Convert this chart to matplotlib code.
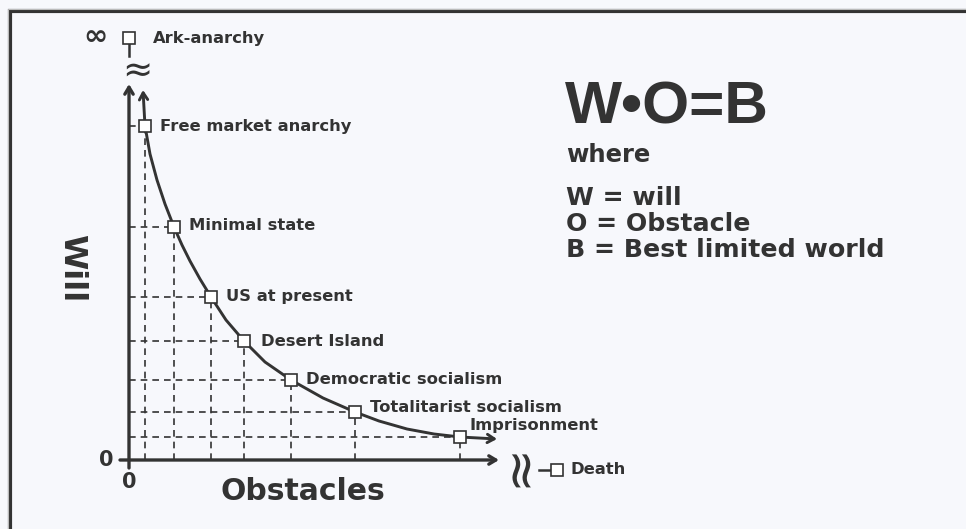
import numpy as np
import matplotlib
matplotlib.use('Agg')
import matplotlib.pyplot as plt
from matplotlib.patches import Rectangle

INK = '#333333'
BG = '#f7f8fc'

# positions of each world on the W-O curve (obstacles, will)
labels = ['Free market anarchy', 'Minimal state', 'US at present', 'Desert Island',
          'Democratic socialism', 'Totalitarist socialism', 'Imprisonment']
obstacles = [1.6, 4.5, 8.2, 11.5, 16.2, 22.6, 33.1]
will = [33.4, 23.3, 16.3, 11.9, 8.0, 4.8, 2.3]

# points
curve_o = [1.4, 1.6, 2.1, 2.8, 3.6, 4.5, 5.3, 6.1, 7.1, 8.2, 9.7, 11.5, 13.6, 16.2,
           19.4, 22.6, 25.0, 27.8, 30.5, 33.1, 36.4]
curve_w = [36.4, 33.4, 30.6, 28.0, 25.6, 23.3, 21.5, 19.9, 18.1, 16.3, 14.0, 11.9, 9.8, 8.0,
           6.2, 4.8, 3.9, 3.1, 2.6, 2.3, 2.1]

# the two limit cases off the chart
ark_o, ark_w = 0.0, 42.2
death_o, death_w = 42.8, -1.0

legend_lines = ['W = will', 'O = Obstacle', 'B = Best limited world']

fig = plt.figure(figsize=(9.66, 5.29), dpi=100, facecolor=BG)
ax = fig.add_axes([0, 0, 1, 1])
ax.set_facecolor(BG)
ax.set_xlim(-12.9, 83.7)
ax.set_ylim(-6.9, 46.0)
ax.axis('off')

# frame
fig.patches.append(Rectangle((10/966, -0.1), 1.2, 1.1 - 11/529, transform=fig.transFigure,
                             fill=False, ec=INK, lw=3, zorder=0))
fig.patches.append(Rectangle((7.5/966, -0.1), 1.2, 1.1 - 8.5/529, transform=fig.transFigure,
                             fill=False, ec='#bbbbbb', lw=0.8, zorder=0))

# axes with arrows
arrow = dict(arrowstyle='->,head_length=0.5,head_width=0.3', color=INK, lw=2.4,
             shrinkA=0, shrinkB=0)
ax.annotate('', xy=(0, 37.6), xytext=(0, -0.8), arrowprops=arrow)
ax.annotate('', xy=(37.0, 0), xytext=(-0.9, 0), arrowprops=arrow)

# dashed guides
for o, w in zip(obstacles, will):
    ax.plot([0, o], [w, w], color=INK, lw=1.2, ls=(0, (4, 3)), zorder=1)
    ax.plot([o, o], [0, w], color=INK, lw=1.2, ls=(0, (4, 3)), zorder=1)

# curve
ax.plot(curve_o[1:-1], curve_w[1:-1], color=INK, lw=2.1, zorder=2, solid_joinstyle='round')
ax.annotate('', xy=(curve_o[0], curve_w[0] + 0.6), xytext=(curve_o[1], curve_w[1]),
            arrowprops=dict(arrow, lw=2.1))
ax.annotate('', xy=(curve_o[-1] + 0.4, curve_w[-1]), xytext=(curve_o[-2], curve_w[-2]),
            arrowprops=dict(arrow, lw=2.1))

ax.plot(obstacles, will, 's', ms=8, mfc='white', mec=INK, mew=1.2, zorder=3)

lab_font = dict(family='DejaVu Sans', weight='bold', color=INK, fontsize=11.8)
offsets = [(11, 0), (11, 1), (11, 0), (12, 0), (11, 0), (11, 3), (7, 8)]
for lab, o, w, off in zip(labels, obstacles, will, offsets):
    ax.annotate(lab, (o, w), xytext=off, textcoords='offset points',
                va='center', ha='left', **lab_font)

# Ark-anarchy (infinite will)
ax.plot([ark_o, ark_o], [ark_w, 40.4], color=INK, lw=1.8, zorder=2)
ax.plot([ark_o], [ark_w], 's', ms=8, mfc='white', mec=INK, mew=1.2, zorder=3)
ax.annotate('Ark-anarchy', (ark_o, ark_w), xytext=(17, 0), textcoords='offset points',
            va='center', ha='left', **lab_font)
ax.annotate('\u221e', (ark_o, ark_w), xytext=(-24, 1), textcoords='offset points',
            va='center', ha='center', family='DejaVu Sans', weight='bold',
            color=INK, fontsize=21)
ax.text(0.8, 38.8, '\u2248', ha='center', va='center', color=INK, fontsize=26,
        family='DejaVu Sans')

# Death (infinite obstacles)
ax.plot([death_o - 1.8, death_o], [death_w, death_w], color=INK, lw=1.8, zorder=2)
ax.plot([death_o], [death_w], 's', ms=8, mfc='white', mec=INK, mew=1.2, zorder=3)
ax.annotate('Death', (death_o, death_w), xytext=(10, 0), textcoords='offset points',
            va='center', ha='left', **lab_font)
ax.text(38.9, -0.5, '\u2248', ha='center', va='center', color=INK, fontsize=38,
        rotation=90, family='DejaVu Sans')

# zero labels
ax.text(-1.6, 0, '0', ha='right', va='center', color=INK, fontsize=15,
        family='DejaVu Sans', weight='bold')
ax.text(0, -1.2, '0', ha='center', va='top', color=INK, fontsize=15,
        family='DejaVu Sans', weight='bold')

# axis titles
ax.text(17.4, -3.2, 'Obstacles', ha='center', va='center', color=INK, fontsize=21.5,
        family='DejaVu Sans', weight='heavy')
ax.text(-5.7, 19.2, 'Will', ha='center', va='center', color=INK, fontsize=23,
        family='DejaVu Sans', weight='heavy', rotation=-90)

# equation block
ax.text(43.6, 33.6, 'W\u2022O=B', family='Liberation Sans', weight='bold', fontsize=43.5,
        va='baseline', ha='left', color=INK)
ax.text(43.7, 29.8, 'where', family='DejaVu Sans', weight='bold', fontsize=17.5,
        va='baseline', ha='left', color=INK)
for line, yb in zip(legend_lines, [25.5, 22.9, 20.3]):
    ax.text(43.7, yb, line, family='DejaVu Sans', weight='bold', fontsize=18.2,
            va='baseline', ha='left', color=INK)

fig.savefig('out.png', dpi=100, facecolor=BG)
